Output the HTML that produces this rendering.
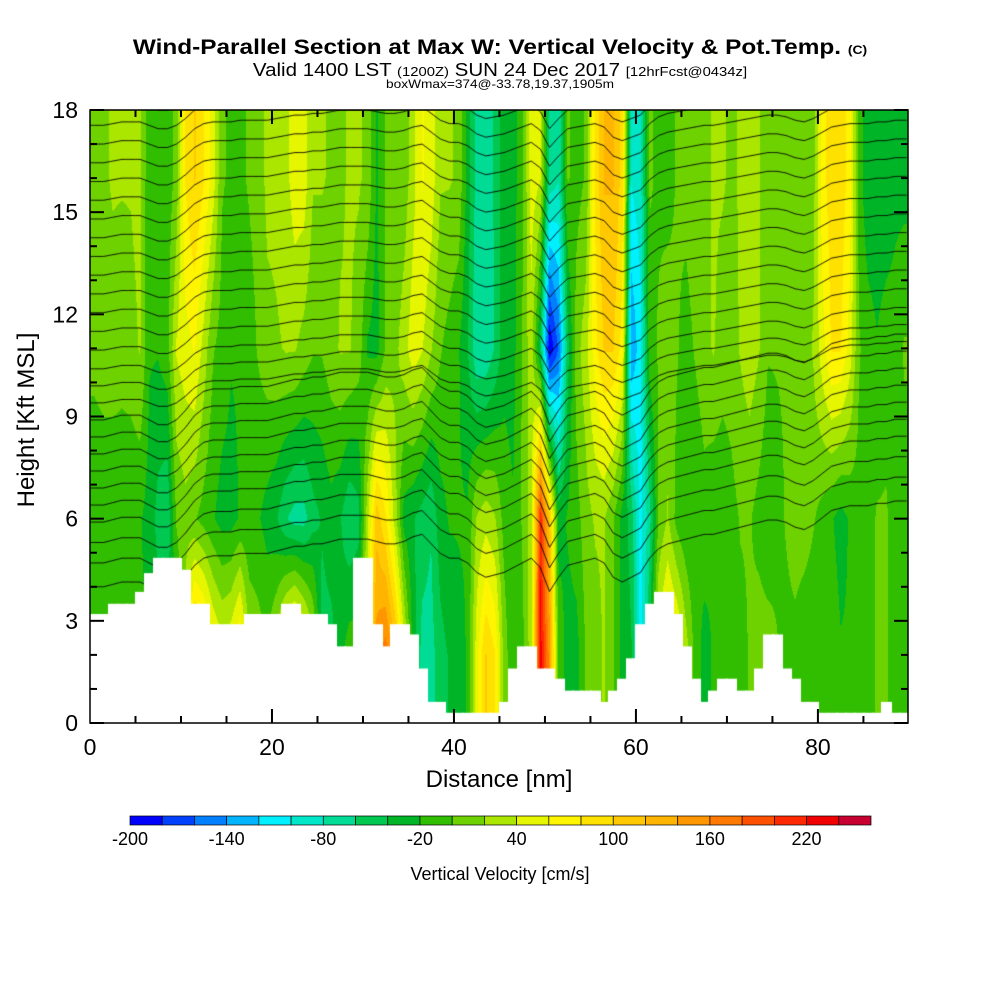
<!DOCTYPE html>
<html><head><meta charset="utf-8"><style>
body{margin:0;background:#fff;width:1000px;height:1000px;position:relative;overflow:hidden;font-family:"Liberation Sans",sans-serif;}
.t{position:absolute;white-space:nowrap;color:#000;}
</style></head><body>
<div class="t" style="left:0;width:1000px;text-align:center;top:36px;font-size:21px;font-weight:bold;transform:scaleX(1.16);transform-origin:500px 0;">Wind-Parallel Section at Max W: Vertical Velocity &amp; Pot.Temp. <span style="font-size:12px">(C)</span></div>
<div class="t" style="left:0;width:1000px;text-align:center;top:60px;font-size:18px;transform:scaleX(1.14);transform-origin:500px 0;">Valid 1400 LST <span style="font-size:13px">(1200Z)</span> SUN 24 Dec 2017 <span style="font-size:13px">[12hrFcst@0434z]</span></div>
<div class="t" style="left:0;width:1000px;text-align:center;top:77px;font-size:12px;transform:scaleX(1.14);transform-origin:500px 0;">boxWmax=374@-33.78,19.37,1905m</div>
<canvas id="plot" width="818" height="613" style="position:absolute;left:90px;top:110px"></canvas>
<svg id="ov" width="1000" height="1000" style="position:absolute;left:0;top:0"></svg>
<div class="t" style="left:0;width:998px;text-align:center;top:766px;font-size:24px;">Distance [nm]</div>
<div class="t" style="left:27px;top:420px;font-size:24px;transform:translate(-50%,-50%) rotate(-90deg);">Height [Kft MSL]</div>
<div class="t" style="left:0;width:1000px;text-align:center;top:864px;font-size:18px;">Vertical Velocity [cm/s]</div>
<script>
const wHeights=[2,6,11,16];
const wAt2k=[-10,-10,-10,-10,-10,-10,-10,-20,-20,-20,40,140,120,80,60,70,100,30,20,10,40,90,120,90,40,-40,-40,-20,0,0,60,160,180,140,60,-20,-60,-60,-40,-30,-20,-10,60,110,90,20,-10,0,40,240,160,0,-20,-20,10,20,30,10,-20,-30,-100,-30,60,90,80,40,0,-20,-10,-10,0,0,10,20,20,10,0,0,-10,-10,-10,0,-10,-10,0,0,10,10,0,0];
const wAt6k=[-10,-10,-10,-5,-10,-10,-20,-40,-50,10,20,10,0,-10,-20,-20,-10,-10,-10,-20,-30,-50,-60,-60,-40,-30,-20,-30,-50,-40,40,120,90,40,-20,-30,-40,-50,-20,-10,-10,-10,30,40,30,0,-10,10,40,220,120,-20,-10,0,20,30,30,10,-20,-40,-100,-60,10,30,0,-10,-10,0,-10,-10,0,10,10,0,-10,0,10,20,20,10,0,-10,-20,-10,0,0,10,10,0,0];
const wAt11k=[15,20,20,15,20,30,-10,-10,0,50,60,70,40,10,0,-10,-10,0,10,20,25,30,30,20,10,10,20,30,30,20,-15,-20,10,20,40,60,50,30,10,0,-10,-30,-70,-70,-50,-20,-20,10,40,-40,-190,-150,-40,20,40,80,110,110,80,-130,-100,0,10,20,10,0,10,20,30,20,20,30,40,30,10,10,10,10,20,30,60,90,90,60,10,0,-10,0,0,10];
const wAt16k=[25,25,30,30,30,35,-10,-10,-5,15,90,110,90,60,10,5,5,10,15,35,35,40,60,60,30,30,25,25,30,30,25,-15,10,10,15,40,70,60,30,30,25,-20,-60,-60,-50,-20,-20,0,60,50,-60,-70,10,0,10,90,130,130,100,-90,-80,10,5,0,10,15,20,20,30,30,25,30,35,30,10,10,15,10,10,20,80,100,100,80,0,-30,-30,-30,-20,-20];
const terrainKft=[3.2,3.2,3.5,3.5,3.5,3.85,4.4,4.85,4.85,4.85,4.5,3.5,3.5,2.9,2.9,2.9,2.9,3.2,3.2,3.2,3.2,3.5,3.5,3.2,3.2,3.2,2.9,2.25,2.25,4.85,4.85,2.9,2.25,2.9,2.9,2.6,1.6,0.62,0.62,0.3,0.3,0.3,0.3,0.3,0.3,0.62,1.6,2.25,2.25,1.6,1.6,1.3,0.95,0.95,0.95,0.95,0.62,0.95,1.3,1.9,2.9,3.5,3.85,3.85,3.2,2.25,1.3,0.62,0.95,1.3,1.3,0.95,0.95,1.6,2.6,2.6,1.6,1.3,0.62,0.62,0.3,0.3,0.3,0.3,0.3,0.3,0.3,0.62,0.3,0.3];
const thetaLevelKft=[4.0,4.7,5.3,5.9,6.4,6.9,7.4,7.9,8.4,8.9,9.4,9.9,10.4,10.95,11.5,12.05,12.6,13.15,13.7,14.25,14.8,15.35,15.9,16.45,17.0,17.55,18.1,18.65,19.2];
const thetaDispKft=[0,0,0.05,0.1,0.1,0.1,0,-0.1,-0.1,0,0.2,0.45,0.6,0.65,0.65,0.65,0.7,0.7,0.7,0.7,0.75,0.8,0.85,0.85,0.9,0.9,0.95,1.0,1.0,1.0,1.0,0.95,0.9,0.9,0.95,1.05,1.1,0.9,0.7,0.6,0.6,0.5,0.3,0.2,0.25,0.3,0.4,0.5,0.6,0.4,-0.1,0.2,0.45,0.5,0.55,0.6,0.5,0.2,0.1,0.2,0.3,0.6,0.8,0.9,0.95,1.0,1.05,1.1,1.1,1.15,1.2,1.25,1.3,1.35,1.4,1.4,1.35,1.25,1.2,1.3,1.45,1.6,1.65,1.7,1.7,1.7,1.75,1.75,1.8,1.8];
const cbColors=["#0000ff","#0040ff","#0080ff","#00b4ff","#00f0ff","#00e6c8","#00dc96","#00c850","#00b428","#32be00","#6ed200","#aae600","#e6f500","#fff500","#ffe100","#ffc800","#ffb400","#ff9600","#ff7800","#ff5000","#ff2800","#f00000","#c80032"];
const cbTicks=[-200,-140,-80,-20,40,100,160,220];
const xTicks=[0,20,40,60,80];
const yTicks=[0,3,6,9,12,15,18];
const wBias=-8;

const X0=90,Y0=110,W=818,H=613,XMAX=89.9,YMAX=18;
const sx=v=>X0+v/XMAX*W, sy=v=>Y0+H-v/YMAX*H;
function arr(a,x){const f=x-0.5;if(f<=0)return a[0];if(f>=a.length-1)return a[a.length-1];const i=Math.floor(f),t=f-i;return a[i]*(1-t)+a[i+1]*t;}
const layers=[wAt2k,wAt6k,wAt11k,wAt16k];
function hex(c){return [parseInt(c.substr(1,2),16),parseInt(c.substr(3,2),16),parseInt(c.substr(5,2),16)];}
const rgb=cbColors.map(hex);
const cv=document.getElementById('plot'),ctx=cv.getContext('2d');
const img=ctx.createImageData(W,H);
for(let px=0;px<W;px++){const x=(px+0.5)/W*XMAX;const col=layers.map(a=>arr(a,x));
 for(let py=0;py<H;py++){const h=(H-py-0.5)/H*YMAX;let v;
  if(h<=2)v=col[0];else if(h>=16)v=col[3];else{let k=h<6?0:h<11?1:2;const t=(h-wHeights[k])/(wHeights[k+1]-wHeights[k]);v=col[k]*(1-t)+col[k+1]*t;}
  v+=wBias;
  let b=Math.floor((v+200)/20);b=Math.max(0,Math.min(22,b));const c=rgb[b],o=(py*W+px)*4;img.data[o]=c[0];img.data[o+1]=c[1];img.data[o+2]=c[2];img.data[o+3]=255;}}
ctx.putImageData(img,0,0);
ctx.strokeStyle='#000';ctx.lineWidth=0.9;
thetaLevelKft.forEach(h=>{ctx.beginPath();for(let x=0;x<=XMAX;x+=0.25){const amp=h<9?1.4:1;const hh=h+arr(thetaDispKft,x)*amp;const px=sx(x)-X0,py=sy(hh)-Y0;if(x===0)ctx.moveTo(px,py);else ctx.lineTo(px,py);}ctx.stroke();});
ctx.fillStyle='#fff';
terrainKft.forEach((t,i)=>{const a=sx(i)-X0,b=sx(i+1)-X0;ctx.fillRect(Math.floor(a),sy(t)-Y0,Math.ceil(b-a)+1,H);});

const NS='http://www.w3.org/2000/svg',ov=document.getElementById('ov');
function el(tag,at,txt){const e=document.createElementNS(NS,tag);for(const k in at)e.setAttribute(k,at[k]);if(txt!==undefined)e.textContent=txt;ov.appendChild(e);return e;}
const fr=el('rect',{x:X0,y:Y0,width:W,height:H,fill:'none',stroke:'#000','stroke-width':1.5});


for(let v=0;v<=18;v+=1){const y=sy(v),L=v%3===0?14:7;
 const t1=el('line',{x1:X0,x2:X0+L,y1:y,y2:y,stroke:'#000','stroke-width':2});
 
 
 const t2=el('line',{x1:X0+W-L,x2:X0+W,y1:y,y2:y,stroke:'#000','stroke-width':2});
 
 }
for(let v=5;v<XMAX;v+=5){const x=sx(v),L=v%20===0?14:7;
 const t1=el('line',{x1:x,x2:x,y1:Y0+H,y2:Y0+H-L,stroke:'#000','stroke-width':2});
 
 
 const t2=el('line',{x1:x,x2:x,y1:Y0,y2:Y0+L,stroke:'#000','stroke-width':2});
 
 }
yTicks.forEach(v=>{const t=el('text',{x:78,y:sy(v)+8,'text-anchor':'end','font-size':23,'font-family':'Liberation Sans, sans-serif'},String(v));
 
 });
xTicks.forEach(v=>{const t=el('text',{x:sx(v),y:755,'text-anchor':'middle','font-size':23,'font-family':'Liberation Sans, sans-serif'},String(v));
 
 });
const CB0=130,CBW=741,bw=CBW/cbColors.length;
cbColors.forEach((c,i)=>{const r=el('rect',{x:CB0+i*bw,y:816,width:bw,height:9,fill:c,stroke:'#000','stroke-width':0.7});
 
 });
cbTicks.forEach(v=>{const t=el('text',{x:CB0+(v+200)/20*bw,y:845,'text-anchor':'middle','font-size':18,'font-family':'Liberation Sans, sans-serif'},String(v));
 
 });
</script>
</body></html>
